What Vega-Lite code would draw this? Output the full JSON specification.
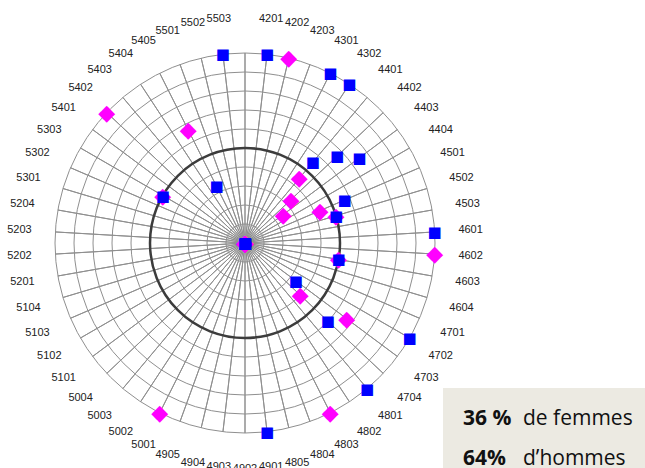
{
  "$schema": "https://vega.github.io/schema/vega-lite/v6.json",
  "width": 490,
  "height": 450,
  "autosize": {"type": "none"},
  "padding": {"left": 0, "top": 18, "right": 155, "bottom": 0},
  "background": "white",
  "config": {"view": {"stroke": null}},
  "datasets": {
    "categories": [
      {"code": "4201", "rang": 1}, {"code": "4202", "rang": 2}, {"code": "4203", "rang": 3},
      {"code": "4301", "rang": 4}, {"code": "4302", "rang": 5},
      {"code": "4401", "rang": 6}, {"code": "4402", "rang": 7}, {"code": "4403", "rang": 8}, {"code": "4404", "rang": 9},
      {"code": "4501", "rang": 10}, {"code": "4502", "rang": 11}, {"code": "4503", "rang": 12},
      {"code": "4601", "rang": 13}, {"code": "4602", "rang": 14}, {"code": "4603", "rang": 15}, {"code": "4604", "rang": 16},
      {"code": "4701", "rang": 17}, {"code": "4702", "rang": 18}, {"code": "4703", "rang": 19}, {"code": "4704", "rang": 20},
      {"code": "4801", "rang": 21}, {"code": "4802", "rang": 22}, {"code": "4803", "rang": 23}, {"code": "4804", "rang": 24}, {"code": "4805", "rang": 25},
      {"code": "4901", "rang": 26}, {"code": "4902", "rang": 27}, {"code": "4903", "rang": 28}, {"code": "4904", "rang": 29}, {"code": "4905", "rang": 30},
      {"code": "5001", "rang": 31}, {"code": "5002", "rang": 32}, {"code": "5003", "rang": 33}, {"code": "5004", "rang": 34},
      {"code": "5101", "rang": 35}, {"code": "5102", "rang": 36}, {"code": "5103", "rang": 37}, {"code": "5104", "rang": 38},
      {"code": "5201", "rang": 39}, {"code": "5202", "rang": 40}, {"code": "5203", "rang": 41}, {"code": "5204", "rang": 42},
      {"code": "5301", "rang": 43}, {"code": "5302", "rang": 44}, {"code": "5303", "rang": 45},
      {"code": "5401", "rang": 46}, {"code": "5402", "rang": 47}, {"code": "5403", "rang": 48}, {"code": "5404", "rang": 49}, {"code": "5405", "rang": 50},
      {"code": "5501", "rang": 51}, {"code": "5502", "rang": 52}, {"code": "5503", "rang": 53}
    ],
    "cercles": [
      {"pct": 10}, {"pct": 20}, {"pct": 30}, {"pct": 40}, {"pct": 60},
      {"pct": 70}, {"pct": 80}, {"pct": 90}, {"pct": 100}
    ],
    "repartition": [
      {"code": "4201", "sexe": "F", "pct": 0}, {"code": "4201", "sexe": "H", "pct": 100},
      {"code": "4202", "sexe": "F", "pct": 100}, {"code": "4202", "sexe": "H", "pct": 0},
      {"code": "4301", "sexe": "F", "pct": 0}, {"code": "4301", "sexe": "H", "pct": 100},
      {"code": "4302", "sexe": "F", "pct": 0}, {"code": "4302", "sexe": "H", "pct": 100},
      {"code": "4401", "sexe": "F", "pct": 44.4}, {"code": "4401", "sexe": "H", "pct": 55.6},
      {"code": "4402", "sexe": "F", "pct": 33.3}, {"code": "4402", "sexe": "H", "pct": 66.7},
      {"code": "4403", "sexe": "F", "pct": 25}, {"code": "4403", "sexe": "H", "pct": 75},
      {"code": "4501", "sexe": "F", "pct": 42.9}, {"code": "4501", "sexe": "H", "pct": 57.1},
      {"code": "4502", "sexe": "F", "pct": 50}, {"code": "4502", "sexe": "H", "pct": 50},
      {"code": "4601", "sexe": "F", "pct": 0}, {"code": "4601", "sexe": "H", "pct": 100},
      {"code": "4602", "sexe": "F", "pct": 100}, {"code": "4602", "sexe": "H", "pct": 0},
      {"code": "4603", "sexe": "F", "pct": 50}, {"code": "4603", "sexe": "H", "pct": 50},
      {"code": "4702", "sexe": "F", "pct": 0}, {"code": "4702", "sexe": "H", "pct": 100},
      {"code": "4703", "sexe": "F", "pct": 66.7}, {"code": "4703", "sexe": "H", "pct": 33.3},
      {"code": "4704", "sexe": "F", "pct": 40}, {"code": "4704", "sexe": "H", "pct": 60},
      {"code": "4801", "sexe": "F", "pct": 0}, {"code": "4801", "sexe": "H", "pct": 100},
      {"code": "4803", "sexe": "F", "pct": 100}, {"code": "4803", "sexe": "H", "pct": 0},
      {"code": "4901", "sexe": "F", "pct": 0}, {"code": "4901", "sexe": "H", "pct": 100},
      {"code": "5001", "sexe": "F", "pct": 100}, {"code": "5001", "sexe": "H", "pct": 0},
      {"code": "5303", "sexe": "F", "pct": 50}, {"code": "5303", "sexe": "H", "pct": 50},
      {"code": "5402", "sexe": "F", "pct": 100}, {"code": "5402", "sexe": "H", "pct": 0},
      {"code": "5405", "sexe": "F", "pct": 66.7}, {"code": "5405", "sexe": "H", "pct": 33.3},
      {"code": "5503", "sexe": "F", "pct": 0}, {"code": "5503", "sexe": "H", "pct": 100}
    ]
  },
  "layer": [
    {
      "data": {"name": "categories"},
      "mark": {"type": "arc", "filled": false, "stroke": "#8f8f8f", "strokeWidth": 1},
      "encoding": {
        "theta": {"field": "rang", "type": "quantitative", "stack": null, "scale": {"type": "linear", "domain": [0, 54], "range": [0, 6.283185307179586]}},
        "theta2": {"field": "rang"},
        "radius": {"datum": 100, "type": "quantitative", "stack": null, "scale": {"type": "linear", "domain": [0, 100], "range": [0, 190], "zero": true}}
      }
    },
    {
      "data": {"values": [{}]},
      "mark": {"type": "arc", "filled": false, "stroke": "#8f8f8f", "strokeWidth": 1},
      "encoding": {
        "theta": {"datum": 0, "type": "quantitative"},
        "theta2": {"datum": 0},
        "radius": {"datum": 100, "type": "quantitative", "stack": null}
      }
    },
    {
      "data": {"name": "cercles"},
      "mark": {"type": "arc", "filled": false, "stroke": "#8f8f8f", "strokeWidth": 1},
      "encoding": {
        "radius": {"field": "pct", "type": "quantitative", "stack": null}
      }
    },
    {
      "data": {"values": [{}]},
      "mark": {"type": "arc", "filled": false, "stroke": "#3c3c3c", "strokeWidth": 2.5},
      "encoding": {
        "radius": {"datum": 50, "type": "quantitative", "stack": null}
      }
    },
    {
      "data": {"name": "categories"},
      "mark": {"type": "text", "font": "Liberation Sans", "fontSize": 11, "color": "#222222", "align": "center", "baseline": "middle", "radiusOffset": 36},
      "encoding": {
        "theta": {"field": "rang", "type": "quantitative"},
        "radius": {"datum": 100, "type": "quantitative"},
        "text": {"field": "code", "type": "nominal"}
      }
    },
    {
      "data": {"name": "repartition"},
      "transform": [
        {"filter": "datum.sexe == 'F'"},
        {"lookup": "code", "from": {"data": {"name": "categories"}, "key": "code", "fields": ["rang"]}}
      ],
      "mark": {"type": "text", "text": "◆", "font": "DejaVu Sans", "fontSize": 22, "align": "center", "baseline": "middle"},
      "encoding": {
        "theta": {"field": "rang", "type": "quantitative"},
        "radius": {"field": "pct", "type": "quantitative"},
        "color": {
          "field": "sexe", "type": "nominal",
          "scale": {"domain": ["F", "H"], "range": ["#FF00FF", "#0000FF"]},
          "legend": {
            "title": null, "orient": "none", "legendX": 443, "legendY": 370,
            "fillColor": "#ECEAE2", "padding": 20, "zindex": 0,
            "symbolOpacity": 0, "symbolStrokeWidth": 0, "symbolSize": 0, "labelOffset": 39,
            "labelFont": "Open Sans", "labelFontSize": 21, "labelColor": "#111111", "rowPadding": 18, "labelLimit": 300,
            "labelExpr": "datum.value == 'F' ? 'de femmes' : 'd’hommes'"
          }
        },
        "opacity": {
          "field": "sexe", "type": "nominal",
          "scale": {"range": [1, 1]},
          "legend": {
            "title": null, "orient": "none", "legendX": 443, "legendY": 370,
            "padding": 20, "zindex": 1,
            "symbolOpacity": 0, "symbolStrokeWidth": 0, "symbolSize": 0, "labelOffset": -21,
            "labelFont": "Open Sans", "labelFontSize": 21, "labelFontWeight": "bold", "labelColor": "#111111", "rowPadding": 18,
            "labelExpr": "datum.value == 'F' ? '36 %' : '64%'"
          }
        }
      }
    },
    {
      "data": {"name": "repartition"},
      "transform": [
        {"filter": "datum.sexe == 'H'"},
        {"lookup": "code", "from": {"data": {"name": "categories"}, "key": "code", "fields": ["rang"]}}
      ],
      "mark": {"type": "text", "text": "■", "font": "DejaVu Sans", "fontSize": 15, "align": "center", "baseline": "middle"},
      "encoding": {
        "theta": {"field": "rang", "type": "quantitative"},
        "radius": {"field": "pct", "type": "quantitative"},
        "color": {"field": "sexe", "type": "nominal"},
        "opacity": {"field": "sexe", "type": "nominal"}
      }
    }
  ]
}
